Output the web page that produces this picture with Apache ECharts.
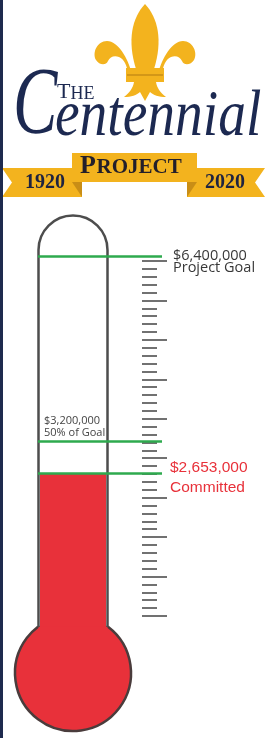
<!DOCTYPE html>
<html><head><meta charset="utf-8">
<script src="https://cdn.jsdelivr.net/npm/echarts@6/dist/echarts.min.js"></script>
<style>html,body{margin:0;padding:0;background:#fff;overflow:hidden}#c{width:267px;height:738px}</style>
</head><body><div id="c"></div>
<script>
// ---- data ----
const categories = ['Committed'];
const committed = [2653000];
const goal = [6400000];
const halfGoal = [3200000];
const goalLabels = ['Project Goal'];
const halfLabels = ['50% of Goal'];
const committedLabels = ['Committed'];
const axisRange = [0, 7000000];
const rulerRange = [0, 9];
const rulerMinorSplit = 5;
const years = ['1920', '2020'];
const titleWords = ['The', 'Centennial', 'Project'];

// ---- styles ----
const GOLD = '#F3B31E', GOLD_DARK = '#C98E16', NAVY = '#1C2951', RED = '#E8313A', GREEN = '#2EAA4E', GRAY = '#4d4d4d';
const fmt = v => '$' + v.toLocaleString('en-US');
const SERIF = '"Liberation Serif", serif';

const chart = echarts.init(document.getElementById('c'), null, {renderer: 'canvas'});

const barGrid = {left: 40, width: 66, top: 221.3, height: 405.3};
const lineGrid = {left: 38, width: 124, top: 221.3, height: 405.3};
const rulerGrid = {left: 142, width: 30, top: 261, height: 355};

const fleurPaths = [
  'M145 4 C132 18 127 40 136 69 L154 69 C163 40 158 18 145 4 Z',
  'M132 74 C128 58 118 41 107 41 C97 41 92 53 96 60 C99 65 106 66 108 61 C110 57 114 55 119 57 C124 59 127 65 128 74 Z',
  'M158 74 C162 58 172 41 183 41 C193 41 198 53 194 60 C191 65 184 66 182 61 C180 57 176 55 171 57 C166 59 163 65 162 74 Z',
  'M134 82 L156 82 C157 88 160 92 166 97 C159 97 153 95 150 92 L145 101 L140 92 C137 95 131 97 124 97 C130 92 133 88 134 82 Z'
];

const option = {
  animation: false,
  backgroundColor: '#ffffff',
  textStyle: {fontFamily: '"Open Sans", sans-serif'},
  grid: [barGrid, lineGrid, rulerGrid],
  xAxis: [
    {type: 'category', gridIndex: 0, data: categories, show: false},
    {type: 'category', gridIndex: 1, data: categories, show: false},
    {type: 'value', gridIndex: 2, show: false}
  ],
  yAxis: [
    {type: 'value', gridIndex: 0, min: axisRange[0], max: axisRange[1], show: false},
    {type: 'value', gridIndex: 1, min: axisRange[0], max: axisRange[1], show: false},
    {type: 'value', gridIndex: 2, min: rulerRange[0], max: rulerRange[1], interval: 1, position: 'left',
     axisLine: {show: false}, axisLabel: {show: false}, splitLine: {show: false},
     axisTick: {show: true, inside: true, length: 25, lineStyle: {color: GRAY, width: 1.6}},
     minorTick: {show: true, splitNumber: rulerMinorSplit, length: 15, lineStyle: {color: GRAY, width: 1.6}}}
  ],
  series: [
    {type: 'bar', xAxisIndex: 0, yAxisIndex: 0, data: committed, barWidth: '100%', silent: true, z: 2,
     itemStyle: {color: RED}},
    {type: 'line', xAxisIndex: 1, yAxisIndex: 1, data: [], silent: true, z: 5,
     markLine: {
       symbol: ['none', 'none'], silent: true, animation: false,
       lineStyle: {color: GREEN, width: 2.5, type: 'solid'},
       data: [
         {yAxis: goal[0], label: {show: true, position: 'end', distance: 11, padding: [12, 0, 0, 0],
           formatter: () => '{a|' + fmt(goal[0]) + '}\n{a|' + goalLabels[0] + '}',
           rich: {a: {fontFamily: '"Open Sans", sans-serif', fontSize: 14.5, color: '#383838', lineHeight: 12.5}}}},
         {yAxis: halfGoal[0], label: {show: true, position: 'insideStartTop', distance: [6, 2],
           formatter: () => '{b|' + fmt(halfGoal[0]) + '}\n{b|' + halfLabels[0] + '}',
           rich: {b: {fontFamily: '"Open Sans", sans-serif', fontSize: 11, color: '#444', lineHeight: 12}}}},
         {yAxis: committed[0], label: {show: true, position: 'end', distance: 8, padding: [10, 0, 0, 0],
           formatter: () => '{c|' + fmt(committed[0]) + '}\n{c|' + committedLabels[0] + '}',
           rich: {c: {fontFamily: '"Liberation Sans Narrow", "Liberation Sans", sans-serif', fontSize: 15.5, color: RED, lineHeight: 20}}}}
       ]
     }},
    {type: 'custom', coordinateSystem: 'none', data: [0], silent: true, z: 3,
     renderItem: () => ({
       type: 'group',
       children: fleurPaths.map((d, i) => ({type: 'path', shape: {pathData: d}, style: {fill: GOLD}}))
         .concat([
           {type: 'rect', shape: {x: 126, y: 68, width: 38, height: 14}, style: {fill: GOLD}},
           {type: 'line', shape: {x1: 127, y1: 75, x2: 163, y2: 75}, style: {stroke: GOLD_DARK, lineWidth: 1.5}}
         ])
     })}
  ],
  graphic: [
    {type: 'rect', z: 100, shape: {x: 0, y: 0, width: 3, height: 738}, style: {fill: '#1E2A4E'}},
    // banner
    {type: 'polygon', z: 10, shape: {points: [[2, 168], [82, 168], [82, 197], [2, 197], [12, 182.5]]}, style: {fill: GOLD}},
    {type: 'polygon', z: 10, shape: {points: [[187, 168], [265, 168], [255, 182.5], [265, 197], [187, 197]]}, style: {fill: GOLD}},
    {type: 'polygon', z: 11, shape: {points: [[72, 182], [82, 182], [82, 197]]}, style: {fill: GOLD_DARK}},
    {type: 'polygon', z: 11, shape: {points: [[197, 182], [187, 182], [187, 197]]}, style: {fill: GOLD_DARK}},
    {type: 'rect', z: 12, shape: {x: 72, y: 153, width: 125, height: 29}, style: {fill: GOLD}},
    {type: 'text', z: 13, x: 45, y: 183, style: {text: years[0], font: 'bold 20px ' + SERIF, fill: '#1E2340', align: 'center', verticalAlign: 'middle'}},
    {type: 'text', z: 13, x: 225, y: 183, style: {text: years[1], font: 'bold 20px ' + SERIF, fill: '#1E2340', align: 'center', verticalAlign: 'middle'}},
    {type: 'text', z: 13, x: 80, y: 166.2, style: {text: titleWords[2][0].toUpperCase(), font: 'bold 26px ' + SERIF, fill: '#231F2A', verticalAlign: 'middle'}},
    {type: 'text', z: 13, x: 96.5, y: 168, style: {text: titleWords[2].slice(1).toUpperCase(), font: 'bold 21px ' + SERIF, fill: '#231F2A', verticalAlign: 'middle'}},
    // title
    {type: 'text', z: 13, x: 57, y: 92.5, style: {text: titleWords[0][0].toUpperCase(), font: '22px ' + SERIF, fill: NAVY, verticalAlign: 'middle'}},
    {type: 'text', z: 13, x: 70.5, y: 93.9, style: {text: titleWords[0].slice(1).toUpperCase(), font: '18px ' + SERIF, fill: NAVY, verticalAlign: 'middle'}},
    {type: 'text', z: 13, x: 13, y: 108, scaleX: 0.7, style: {text: titleWords[1][0], font: 'italic 95px ' + SERIF, fill: NAVY, verticalAlign: 'middle'}},
    {type: 'text', z: 13, x: 55, y: 117.7, scaleX: 0.84, style: {text: titleWords[1].slice(1), font: 'italic 66px ' + SERIF, fill: NAVY, verticalAlign: 'middle'}},
    // thermometer glyph
    {type: 'circle', z: 1, shape: {cx: 73, cy: 673, r: 58}, style: {fill: RED}},
    {type: 'line', z: 4, shape: {x1: 38.5, y1: 250, x2: 38.5, y2: 627}, style: {stroke: GRAY, lineWidth: 2.5}},
    {type: 'line', z: 4, shape: {x1: 107.5, y1: 250, x2: 107.5, y2: 627}, style: {stroke: GRAY, lineWidth: 2.5}},
    {type: 'arc', z: 4, shape: {cx: 73, cy: 250, r: 34.5, startAngle: Math.PI, endAngle: 2 * Math.PI, clockwise: true}, style: {stroke: GRAY, lineWidth: 2.5, fill: null}},
    {type: 'arc', z: 4, shape: {cx: 73, cy: 673, r: 58, startAngle: -0.9234, endAngle: 2 * Math.PI - 2.218, clockwise: true}, style: {stroke: '#4a3c3c', lineWidth: 2.5, fill: null}}
  ]
};
chart.setOption(option);
</script>
</body></html>
